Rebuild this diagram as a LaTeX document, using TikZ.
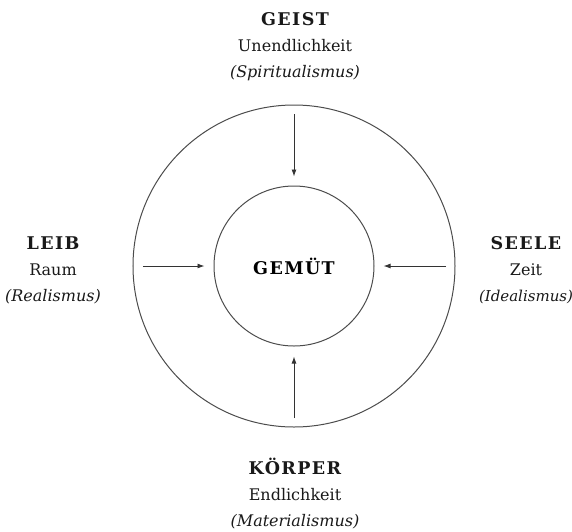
\documentclass[tikz,border=0pt]{standalone}
\usepackage{fontspec}
\setmainfont{DejaVu Serif}
\newfontfamily\titelfont[LetterSpace=8]{DejaVu Serif Bold}
\newcommand{\titel}[1]{{\titelfont\fontsize{17.5}{20}\selectfont #1}}
\usetikzlibrary{arrows.meta}
\tikzset{
  gruppe/.style={align=center, text=black!90, font=\fontsize{16}{26}\selectfont},
  kreis/.style={draw=black!70, line width=1pt, circle, inner sep=0pt}
}

\begin{document}
\begin{tikzpicture}[x=1pt, y=1pt, >={Latex[length=7pt,width=5pt]}]
			\useasboundingbox (-294,266) rectangle (278,-265);

			\node[kreis, minimum size=322pt] (aussen) at (0,0) {};
			\node[kreis, minimum size=160pt] (gemuet) at (0,0) {\titel{GEMÜT}};

			\node[gruppe] (geist) at (1,219) {\titel{GEIST}\\Unendlichkeit\\\textit{(Spiritualismus)}};
			\node[gruppe] (leib) at (-241,-4) {\titel{LEIB}\\Raum\\\textit{(Realismus)}};
			\node[gruppe] (seele) at (232,-4) {\titel{SEELE}\\Zeit\\{\fontsize{15}{26}\selectfont\textit{(Idealismus)}}};
			\node[gruppe] (koerper) at (1,-228) {\titel{KÖRPER}\\Endlichkeit\\\textit{(Materialismus)}};

			\coordinate (n) at (0,152);
			\coordinate (w) at (-151,0);
			\coordinate (o) at (152,0);
			\coordinate (s) at (0,-152);

			\draw[->, black!80, line width=0.9pt, shorten >=9pt] (n) to (gemuet);
			\draw[->, black!80, line width=0.9pt, shorten >=9pt] (w) to (gemuet);
			\draw[->, black!80, line width=0.9pt, shorten >=9pt] (o) to (gemuet);
			\draw[->, black!80, line width=0.9pt, shorten >=10pt] (s) to (gemuet);

		\end{tikzpicture}
\end{document}
